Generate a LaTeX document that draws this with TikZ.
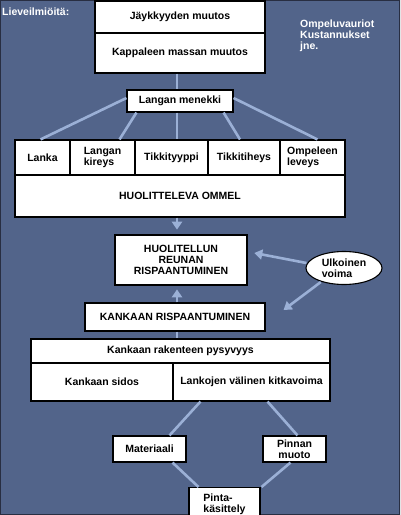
\documentclass[tikz,border=0pt]{standalone}
\usepackage{fontspec}
\setmainfont{Liberation Sans}
\usetikzlibrary{arrows.meta,shapes.geometric,calc}
\definecolor{bg}{RGB}{82,100,138}
\definecolor{conn}{RGB}{155,176,214}
\definecolor{frame}{RGB}{40,46,66}
\tikzset{
  txt/.style={font=\bfseries\fontsize{10.5}{11}\selectfont},
  box/.style={draw=black,line width=1.1pt,fill=white,inner sep=2pt,txt,align=center},
  thickbox/.style={box,line width=2.6pt},
  link/.style={draw=conn,line width=2.6pt},
  arr/.style={link,-{Triangle[width=10pt,length=8pt]}},
  lbl/.style={text=white,txt,inner sep=0pt},
}
\begin{document}
\begin{tikzpicture}[x=1pt,y=-1pt]
\useasboundingbox (0,0) rectangle (400,515);
\clip (0,0) rectangle (400,515);
\fill[bg] (0,0) rectangle (400,515);
\draw[frame,line width=1.2pt] (0,0) rectangle (400,515);

\node[lbl,anchor=west] (lieve) at (2,12) {Lieveilmiöitä:};
\node[lbl,anchor=north west,align=left] (omp) at (300,20) {Ompeluvauriot\\Kustannukset\\jne.};

\coordinate (mid) at (177,0);

% top box
\node[box,minimum width=170pt,minimum height=32pt] (jay) at (180,17) {Jäykkyyden muutos};
\node[box,minimum width=170pt,minimum height=40pt] (massa) at (180,53) {Kappaleen massan muutos};
\node[box,minimum width=106pt,minimum height=22pt] (menekki) at (180,101) {Langan menekki};

% row of five
\node[box,minimum width=55pt,minimum height=35pt] (lanka) at (42.5,157.5) {Lanka};
\node[box,minimum width=65pt,minimum height=35pt,align=left] (kireys) at (102.5,157.5) {Langan\\kireys};
\node[box,minimum width=73pt,minimum height=35pt] (tyyppi) at (171.5,157.5) {Tikkityyppi};
\node[box,minimum width=72pt,minimum height=35pt] (tiheys) at (244,157.5) {Tikkitiheys};
\node[box,minimum width=65pt,minimum height=35pt,align=left] (leveys) at (312.5,157.5) {Ompeleen\\leveys};
\node[box,minimum width=330pt,minimum height=42pt] (ommel) at (180,196) {HUOLITTELEVA OMMEL};

\node[thickbox,minimum width=132pt,minimum height=50pt] (huol) at (181,260) {HUOLITELLUN\\REUNAN\\RISPAANTUMINEN};
\node[draw=black,line width=1.1pt,fill=white,ellipse,minimum width=76pt,minimum height=33pt,inner sep=0pt,txt,align=left] (ulk) at (344,268) {Ulkoinen\\voima};

\node[box,minimum width=180pt,minimum height=28pt] (krisp) at (175,317) {KANKAAN RISPAANTUMINEN};
\node[box,minimum width=299pt,minimum height=24pt] (pysy) at (180.5,351) {Kankaan rakenteen pysyvyys};
\node[box,minimum width=142pt,minimum height=38pt] (sidos) at (102,382) {Kankaan sidos};
\node[box,minimum width=157pt,minimum height=38pt] (kitka) at (251.5,382) {Lankojen välinen kitkavoima};

\node[box,minimum width=73pt,minimum height=26pt] (mat) at (149.5,449) {Materiaali};
\node[box,minimum width=63pt,minimum height=26pt] (pinnan) at (294.5,449) {Pinnan\\muoto};
\node[box,minimum width=71pt,minimum height=34pt,anchor=north,align=left] (pinta) at (224.5,487) {Pinta-\\käsittely};

% connectors
\path[link] (massa.south -| mid) -- (menekki.north -| mid);
\path[link] ($(menekki.west)+(0,-3)$) -- ($(lanka.north)+(-2,0)$);
\path[link] ($(menekki.south west)+(10,0)$) -- ($(kireys.north)+(17,0)$);
\path[link] (menekki.south -| mid) -- (tyyppi.north -| mid);
\path[link] ($(menekki.south east)+(-10,0)$) -- ($(tiheys.north)+(-4,0)$);
\path[link] ($(menekki.east)+(0,-3)$) -- ($(leveys.north)+(5,0)$);
\path[arr] (ommel.south -| mid) -- ($(huol.north -| mid)+(0,-4)$);
\path[arr] (krisp.north -| mid) -- ($(huol.south -| mid)+(0,3)$);
\path[arr] ($(ulk.west)+(1,-5)$) -- ($(huol.east)+(6,-7)$);
\path[arr] ($(ulk.south west)+(4,2)$) -- ($(krisp.east)+(18,-7)$);
\path[link] (krisp.south -| mid) -- (pysy.north -| mid);
\path[link] ($(kitka.south)+(-51,0)$) -- ($(mat.north)+(20,0)$);
\path[link] ($(kitka.south)+(16,0)$) -- ($(pinnan.north)+(3,0)$);
\path[link] ($(mat.south)+(23,0)$) -- ($(pinta.north)+(-26,0)$);
\path[link] ($(pinnan.south)+(-4,0)$) -- ($(pinta.north)+(37,0)$);
\end{tikzpicture}
\end{document}
